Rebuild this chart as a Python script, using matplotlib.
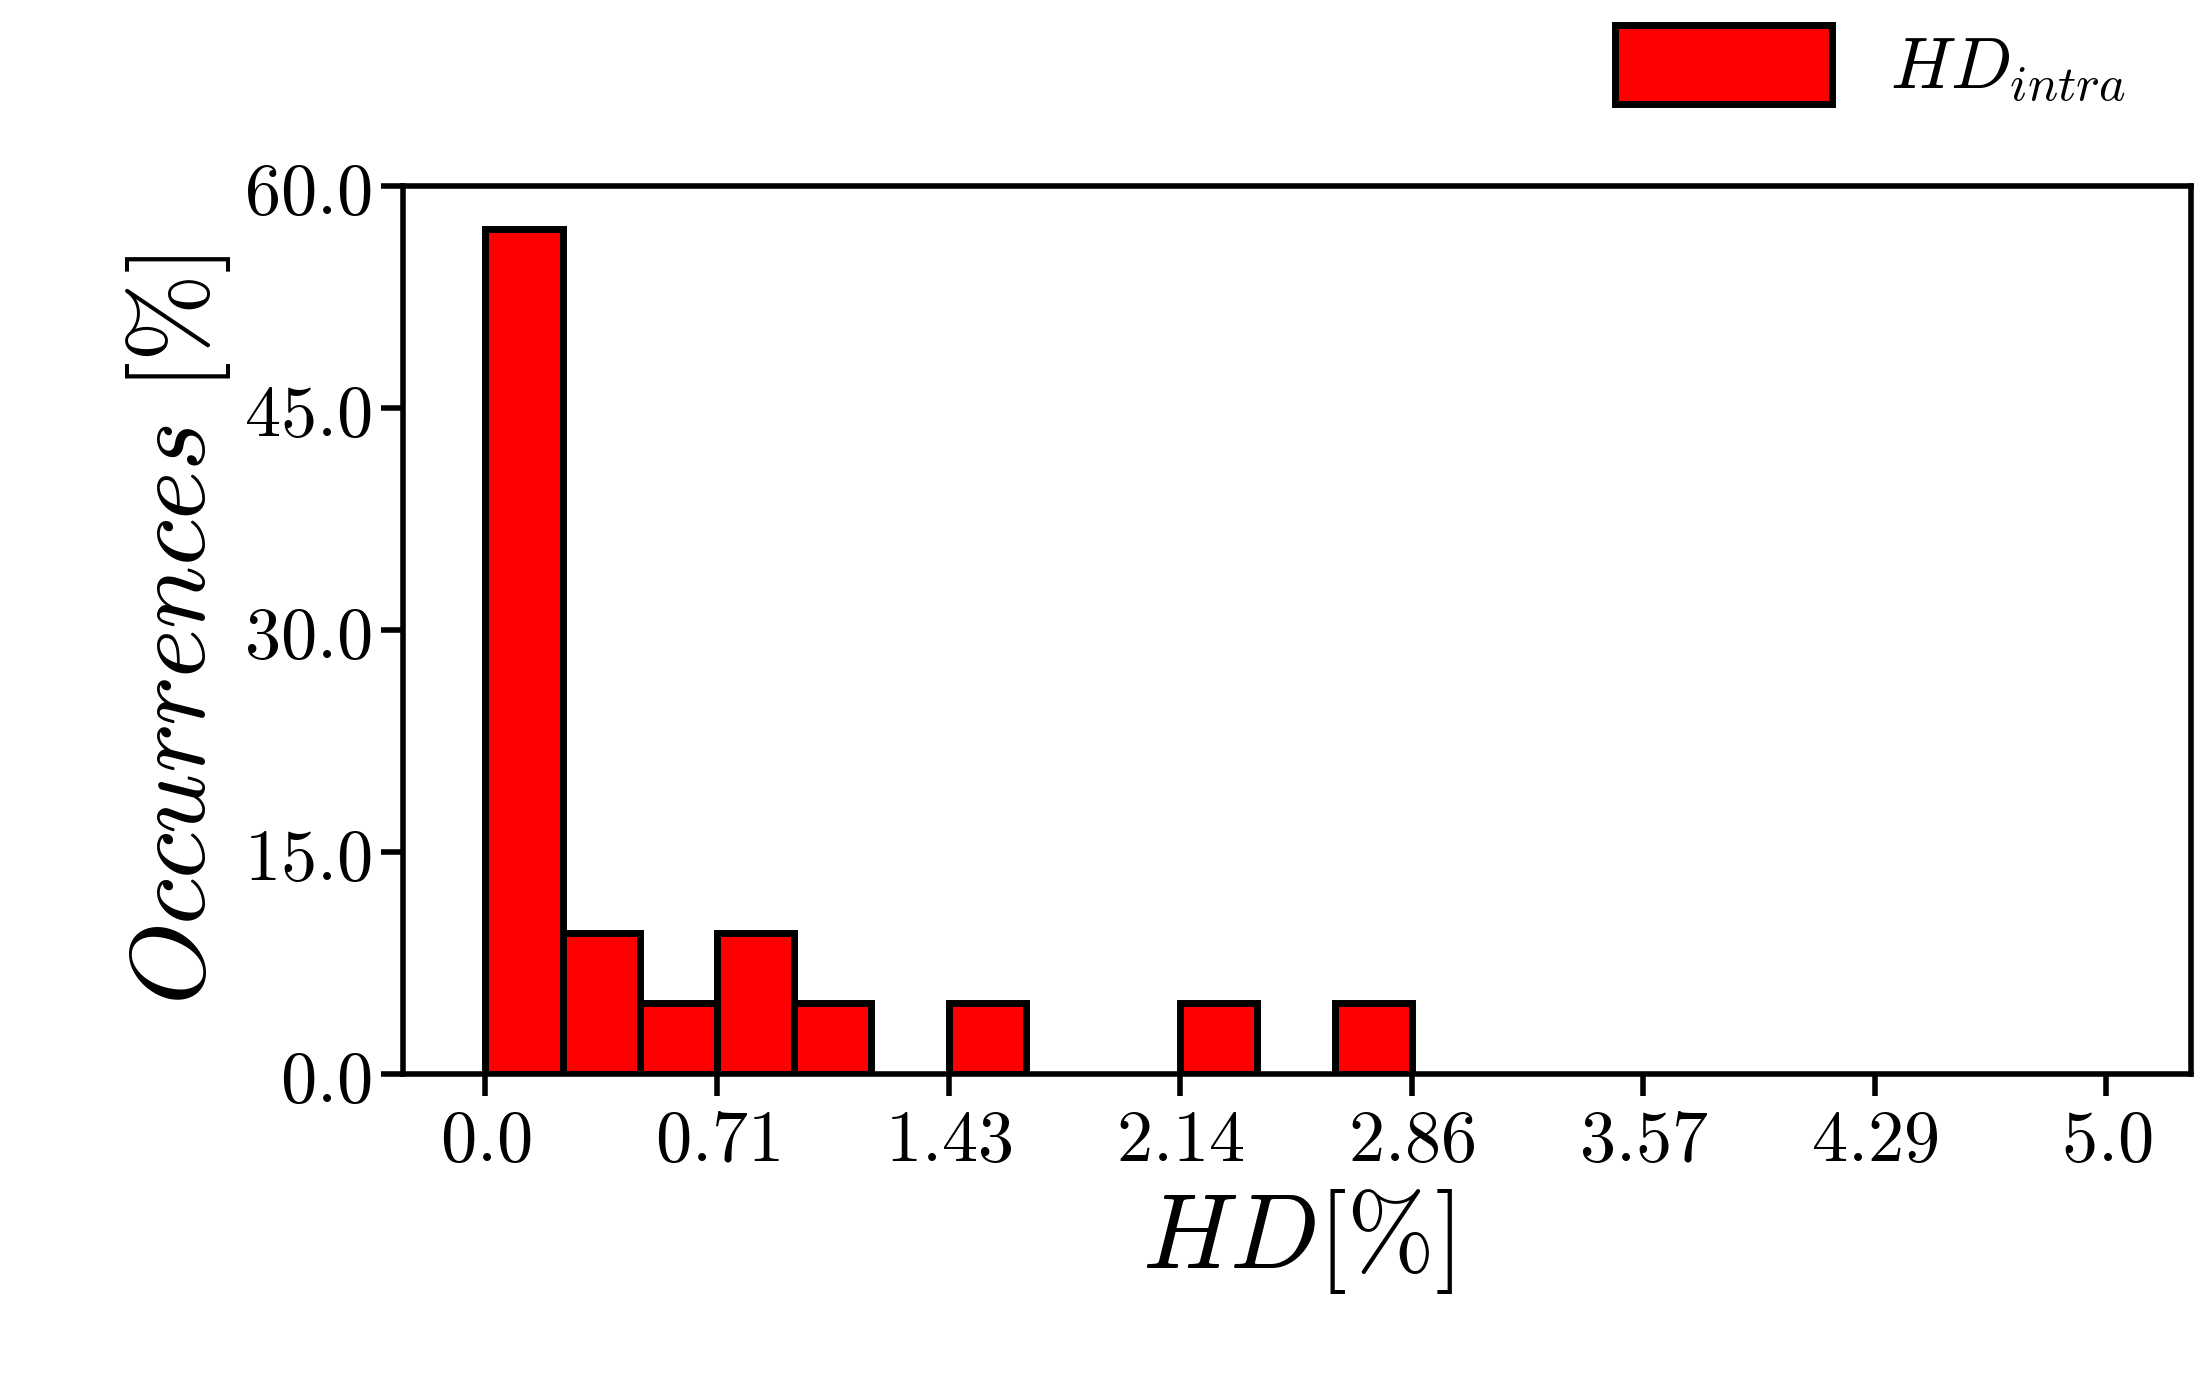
import numpy as np
import matplotlib
matplotlib.use("Agg")
import matplotlib.pyplot as plt

plt.rcParams['mathtext.fontset'] = 'cm'
plt.rcParams['font.family'] = 'serif'
plt.rcParams['font.serif'] = ['DejaVu Serif']

# bin index (width 5/21) and occurrence [%]
bin_idx = [0, 1, 2, 3, 4, 6, 9, 11]
occ = [57.14, 9.52, 4.76, 9.52, 4.76, 4.76, 4.76, 4.76]
bin_w = 5.0 / 21
xticks = np.linspace(0, 5, 8)
xlabels = ['0.0', '0.71', '1.43', '2.14', '2.86', '3.57', '4.29', '5.0']
yticks = [0, 15, 30, 45, 60]

fig = plt.figure(figsize=(11.02, 6.955), dpi=200)
ax = fig.add_axes([0.183, 0.228, 0.811, 0.638])
left = [i * bin_w for i in bin_idx]
ax.bar(left, occ, width=bin_w, align='edge', color='#ff0000',
       edgecolor='black', linewidth=2.5, label=r'$HD_{intra}$')
ax.set_xlim(-0.253, 5.26)
ax.set_ylim(0, 60)
ax.set_xticks(xticks)
ax.set_xticklabels(['$%s$' % s for s in xlabels])
ax.set_yticks(yticks)
ax.set_yticklabels(['$%.1f$' % v for v in yticks])
ax.tick_params(labelsize=26, width=2, length=8)
for s in ax.spines.values():
    s.set_linewidth(2)
ax.set_xlabel(r'$HD[\%]$', fontsize=38)
ax.set_ylabel(r'$Occurrences\ [\%]$', fontsize=38)
ax.legend(loc='lower right', bbox_to_anchor=(1.0, 1.02), frameon=False,
          fontsize=26, handlelength=3, handleheight=1.3)
fig.savefig('out.png', dpi=200)
